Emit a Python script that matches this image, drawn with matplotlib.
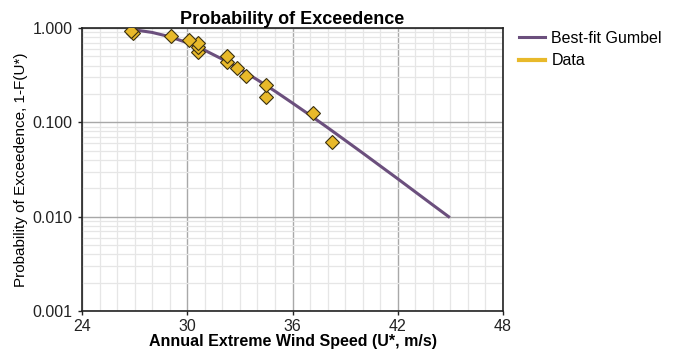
import numpy as np
from matplotlib import pyplot as plt
from matplotlib.ticker import FixedLocator, LogLocator, NullFormatter

plt.rcParams['font.family'] = ['Liberation Sans', 'DejaVu Sans']

# 観測データ（年最大風速と非超過確率のプロット位置）
data_speed = [38.24, 37.15, 34.47, 34.47, 33.35, 32.82, 32.25, 32.25,
              30.63, 30.63, 30.63, 30.10, 29.05, 26.90, 26.80]
data_prob = [0.0625, 0.125, 0.1875, 0.25, 0.3125, 0.375, 0.4375, 0.5,
             0.5625, 0.625, 0.6875, 0.75, 0.8125, 0.875, 0.9375]

# Gumbel曲線（図から読み取った点）
fit_speed = [26.9, 28, 29, 30, 31, 32, 33, 34, 35, 36, 37, 38, 39, 40,
             41, 42, 43, 44, 44.9]
fit_prob = [0.961, 0.897, 0.808, 0.698, 0.580, 0.467, 0.367, 0.282, 0.214,
            0.160, 0.119, 0.0879, 0.0645, 0.0473, 0.0345, 0.0252, 0.0183,
            0.0133, 0.0100]

x_ticks = [24, 30, 36, 42, 48]
y_ticks = [0.001, 0.01, 0.1, 1.0]
y_labels = ["0.001", "0.010", "0.100", "1.000"]

fig = plt.figure(figsize=(6.8, 3.52), dpi=100)
ax = fig.add_axes([0.1206, 0.1165, 0.6191, 0.804])

ax.plot(fit_speed, fit_prob, color='#6b4f7d', linewidth=2.2,
        label="Best-fit Gumbel", zorder=3)
ax.plot(data_speed, data_prob, linestyle='none', marker='D', markersize=7.2,
        markerfacecolor='#e8b92a', markeredgecolor='#3a3010',
        markeredgewidth=0.8, zorder=4)
# 凡例用（線で表示）
ax.plot([], [], color='#e8b92a', linewidth=3, label="Data")

ax.set_yscale('log')
ax.set_xlim(24, 48)
ax.set_ylim(0.001, 1.0)

ax.set_xticks(x_ticks)
ax.xaxis.set_minor_locator(FixedLocator(np.arange(24, 49, 1)))
ax.set_yticks(y_ticks)
ax.set_yticklabels(y_labels)
ax.yaxis.set_minor_locator(LogLocator(base=10, subs=np.arange(2, 10)))
ax.yaxis.set_minor_formatter(NullFormatter())

# グリッド
ax.grid(True, which='minor', color='#e6e6e6', linewidth=0.9)
ax.grid(True, which='major', color='#a8a8a8', linewidth=1.0)
ax.set_axisbelow(True)

ax.tick_params(which='minor', length=0)
ax.tick_params(which='major', length=3, width=1, direction='out',
               labelsize=11.5, colors='#222222')
ax.tick_params(axis='y', pad=4)
ax.tick_params(axis='x', pad=2.5)
for s in ax.spines.values():
    s.set_color('#222222')
    s.set_linewidth(1.2)

ax.set_title("Probability of Exceedence", fontsize=13, fontweight='bold', pad=3)
ax.set_xlabel("Annual Extreme Wind Speed (U*, m/s)", fontsize=11.5,
              fontweight='bold', labelpad=0)
ax.set_ylabel("Probability of Exceedence, 1-F(U*)", fontsize=11, labelpad=3)

leg = ax.legend(loc='upper left', bbox_to_anchor=(1.005, 1.04), frameon=False,
                fontsize=11.5, handlelength=1.6, handletextpad=0.4,
                labelspacing=0.45)

plt.savefig("out.png", dpi=100)
plt.close()
